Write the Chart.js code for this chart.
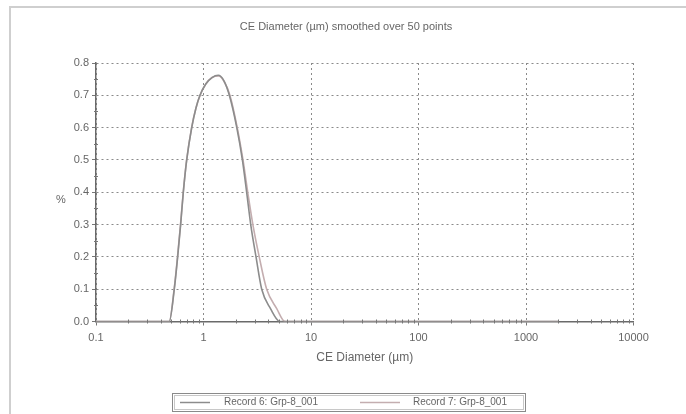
<!DOCTYPE html>
<html>
<head>
<meta charset="utf-8">
<script src="https://cdn.jsdelivr.net/npm/chart.js@4/dist/chart.umd.min.js"></script>
<style>
html,body{margin:0;padding:0;background:#fff;}
#wrap{width:686px;height:414px;position:relative;}
</style>
</head>
<body>
<div id="wrap"><canvas id="c" width="686" height="414"></canvas></div>
<script>
// ---- data ----
const chartTitle = "CE Diameter (µm) smoothed over 50 points";
const xTitle = "CE Diameter (µm)";
const yTitle = "%";
const xTickValues = [0.1, 1, 10, 100, 1000, 10000];
const xTickLabels = ["0.1", "1", "10", "100", "1000", "10000"];
const yTickLabels = ["0.0","0.1","0.2","0.3","0.4","0.5","0.6","0.7","0.8"];
const seriesNames = ["Record 6: Grp-8_001", "Record 7: Grp-8_001"];

const rec6X = [0.1, 0.3, 0.48, 0.535, 0.575, 0.613, 0.649, 0.698, 0.777, 0.85, 0.927, 1.05, 1.2, 1.37, 1.55, 1.74, 2.04, 2.3, 2.52, 2.75, 3.08, 3.48, 4.2, 5.15, 10, 100, 1000, 2000];
const rec6Y = [0, 0, 0, 0.1, 0.2, 0.3, 0.4, 0.5, 0.6, 0.66, 0.7, 0.735, 0.755, 0.762, 0.745, 0.7, 0.6, 0.5, 0.4, 0.3, 0.2, 0.1, 0.04, 0, 0, 0, 0, 0];
const rec7X = [0.1, 0.3, 0.48, 0.533, 0.573, 0.611, 0.648, 0.697, 0.775, 0.85, 0.93, 1.05, 1.2, 1.38, 1.56, 1.76, 2.06, 2.33, 2.58, 2.88, 3.3, 3.87, 4.8, 5.73, 10, 100, 1000, 2000];
const rec7Y = [0, 0, 0, 0.1, 0.2, 0.3, 0.4, 0.5, 0.6, 0.66, 0.7, 0.735, 0.755, 0.76, 0.742, 0.7, 0.6, 0.5, 0.4, 0.3, 0.2, 0.1, 0.04, 0, 0, 0, 0, 0];

const toPts = (xs, ys) => xs.map((x, i) => ({x: x, y: ys[i]}));

const FONT = "'Liberation Sans', Arial, sans-serif";
const TXT = '#666';
const seriesColors = ['#8c8c8c', '#c4aeb0'];

const decor = {
  id: 'decor',
  beforeDraw(chart) {
    const ctx = chart.ctx;
    ctx.save();
    ctx.fillStyle = '#fff';
    ctx.fillRect(0, 0, chart.width, chart.height);
    ctx.strokeStyle = '#cfcfcf';
    ctx.lineWidth = 2;
    ctx.beginPath();
    ctx.moveTo(10, chart.height);
    ctx.lineTo(10, 7);
    ctx.lineTo(chart.width, 7);
    ctx.stroke();
    ctx.restore();
  },
  afterDraw(chart) {
    const ctx = chart.ctx;
    const xs = chart.scales.x, ys = chart.scales.y;
    ctx.save();
    // title
    ctx.fillStyle = TXT;
    ctx.font = "11px " + FONT;
    ctx.textAlign = 'center';
    ctx.textBaseline = 'middle';
    ctx.fillText(chartTitle, 346, 27);
    // y axis title (upright)
    ctx.font = "11px " + FONT;
    ctx.fillText(yTitle, 61, (ys.top + ys.bottom) / 2 + 8);
    // minor ticks
    ctx.strokeStyle = '#777';
    ctx.lineWidth = 1;
    ctx.beginPath();
    for (let v = 0.05; v < 0.8; v += 0.1) {
      const py = Math.round(ys.getPixelForValue(v)) + 0.5;
      ctx.moveTo(xs.left - 2, py); ctx.lineTo(xs.left + 2, py);
    }
    for (let d = 0.1; d < 10000; d *= 10) {
      for (let k = 2; k <= 9; k++) {
        const px = Math.round(xs.getPixelForValue(d * k)) + 0.5;
        ctx.moveTo(px, ys.bottom - 2); ctx.lineTo(px, ys.bottom + 2);
      }
    }
    ctx.stroke();
    // legend
    const lx = 172, ly = 393, lw = 353, lh = 18;
    ctx.strokeStyle = '#8a8a8a';
    ctx.lineWidth = 1;
    ctx.strokeRect(lx + 0.5, ly + 0.5, lw, lh);
    ctx.strokeStyle = '#c8c8c8';
    ctx.strokeRect(lx + 2.5, ly + 2.5, lw - 4, lh - 4);
    ctx.font = "10px " + FONT;
    ctx.textAlign = 'left';
    const cy = ly + lh / 2 + 0.5;
    const items = [{x0: 180, x1: 210, tx: 224}, {x0: 360, x1: 400, tx: 413}];
    items.forEach((it, i) => {
      ctx.strokeStyle = seriesColors[i];
      ctx.lineWidth = 1.5;
      ctx.beginPath(); ctx.moveTo(it.x0, cy); ctx.lineTo(it.x1, cy); ctx.stroke();
      ctx.fillStyle = TXT;
      ctx.fillText(seriesNames[i], it.tx, cy);
    });
    ctx.restore();
  }
};

new Chart(document.getElementById('c'), {
  type: 'line',
  data: {
    datasets: [
      {label: seriesNames[0], data: toPts(rec6X, rec6Y), borderColor: seriesColors[0], borderWidth: 1.6, pointRadius: 0, cubicInterpolationMode: 'monotone', fill: false},
      {label: seriesNames[1], data: toPts(rec7X, rec7Y), borderColor: seriesColors[1], borderWidth: 1.6, pointRadius: 0, cubicInterpolationMode: 'monotone', fill: false}
    ]
  },
  options: {
    responsive: false,
    animation: false,
    devicePixelRatio: 1,
    layout: {padding: {left: 0, top: 63, right: 52.5, bottom: 0}},
    plugins: {legend: {display: false}, title: {display: false}, tooltip: {enabled: false}},
    scales: {
      x: {
        type: 'logarithmic',
        min: 0.1, max: 10000,
        afterBuildTicks: (s) => { s.ticks = xTickValues.map(v => ({value: v})); },
        afterFit: (s) => { s.height = 92.5; },
        ticks: {
          color: TXT, font: {family: FONT, size: 11}, padding: 6, maxRotation: 0,
          callback: (v) => { const i = xTickValues.indexOf(v); return i >= 0 ? xTickLabels[i] : ''; }
        },
        grid: {color: '#8a8a8a', lineWidth: 1, tickLength: 4, tickColor: '#777', drawTicks: true},
        border: {display: true, color: '#6a6a6a', width: 1.5, dash: [2, 3]},
        title: {display: true, text: xTitle, color: TXT, font: {family: FONT, size: 12}, padding: {top: 0, bottom: 48.8}}
      },
      y: {
        min: 0, max: 0.8,
        afterBuildTicks: (s) => { s.ticks = yTickLabels.map(t => ({value: parseFloat(t)})); },
        afterFit: (s) => { s.width = 96; },
        ticks: {
          color: TXT, font: {family: FONT, size: 11}, padding: 3,
          callback: (v) => { const i = yTickLabels.findIndex(t => Math.abs(parseFloat(t) - v) < 1e-9); return i >= 0 ? yTickLabels[i] : ''; }
        },
        grid: {color: '#8a8a8a', lineWidth: 1, tickLength: 4, tickColor: '#777', drawTicks: true},
        border: {display: true, color: '#6a6a6a', width: 1.5, dash: [2, 3]},
        title: {display: false}
      }
    }
  },
  plugins: [decor]
});
</script>
</body>
</html>
